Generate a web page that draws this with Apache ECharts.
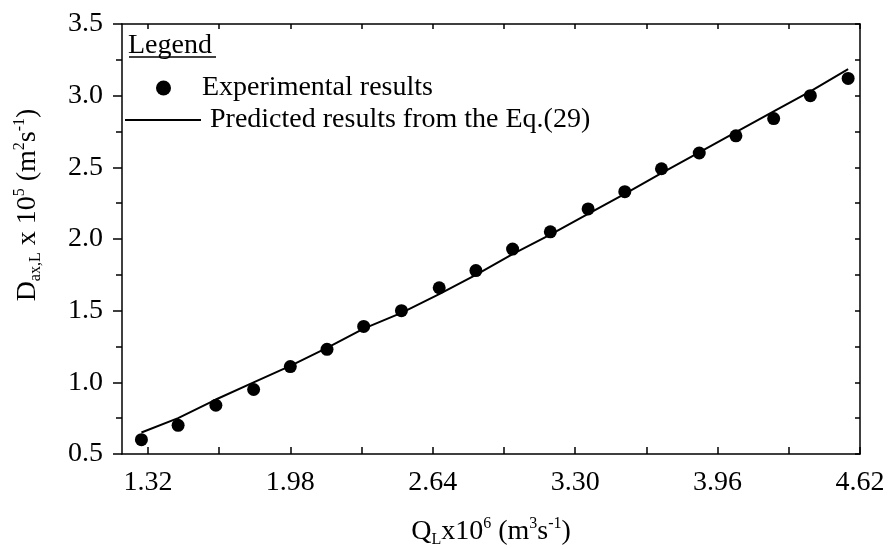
<!DOCTYPE html>
<html>
<head>
<meta charset="utf-8">
<script src="https://cdn.jsdelivr.net/npm/echarts@6/dist/echarts.min.js"></script>
<style>
  html, body { margin: 0; padding: 0; background: #fff; }
  #chart { width: 888px; height: 549px; }
</style>
</head>
<body>
<div id="chart"></div>
<script>
// flow rate Q_L x10^6 (m3/s)
var qL = [1.29, 1.46, 1.635, 1.81, 1.98, 2.15, 2.32, 2.495, 2.67, 2.84,
  3.01, 3.185, 3.36, 3.53, 3.70, 3.875, 4.045, 4.22, 4.39, 4.565]
// experimental D_ax,L x10^5
var expData = [0.60, 0.70, 0.84, 0.95, 1.11, 1.23, 1.39, 1.50, 1.66, 1.78,
  1.93, 2.05, 2.21, 2.33, 2.49, 2.60, 2.72, 2.84, 3.00, 3.12]
// predicted from Eq.(29)
var predData = [0.65, 0.75, 0.88, 1.00, 1.115, 1.24, 1.375, 1.485, 1.615, 1.75,
  1.895, 2.03, 2.175, 2.315, 2.46, 2.605, 2.745, 2.89, 3.03, 3.185]
var xTicks = [1.32, 1.65, 1.98, 2.31, 2.64, 2.97, 3.30, 3.63, 3.96, 4.29, 4.62]
var xLabels = [1.32, 1.98, 2.64, 3.30, 3.96, 4.62]

var font = "'Liberation Serif', 'Times New Roman', serif"
var fs = 28

var chart = echarts.init(document.getElementById('chart'))

var pairs = function (ys) {
  return qL.map(function (x, i) { return [x, ys[i]] })
}

var supStyle = { fontFamily: font, fontSize: 16, color: '#000', verticalAlign: 'top', lineHeight: 32 }
var subStyle = { fontFamily: font, fontSize: 16, color: '#000', verticalAlign: 'bottom', lineHeight: 32 }
var baseStyle = { fontFamily: font, fontSize: fs, color: '#000', lineHeight: 32 }

chart.setOption({
  animation: false,
  backgroundColor: '#fff',
  textStyle: { fontFamily: font, color: '#000' },
  title: {
    text: 'Legend',
    left: 128,
    top: 32,
    padding: 0,
    textStyle: { fontFamily: font, fontSize: fs, fontWeight: 'normal', color: '#000' }
  },
  graphic: [{
    type: 'line',
    shape: { x1: 129, y1: 57, x2: 216, y2: 57 },
    style: { stroke: '#000', lineWidth: 1.5 }
  }],
  legend: [{
    data: [{ name: 'Experimental results', icon: 'circle' }],
    left: 156,
    top: 74,
    padding: 0,
    itemWidth: 15,
    itemHeight: 15,
    textStyle: { fontFamily: font, fontSize: fs, color: '#000', padding: [0, 0, 0, 26] }
  }, {
    data: [{ name: 'Predicted results from the Eq.(29)', icon: 'rect' }],
    left: 125,
    top: 106,
    padding: 0,
    itemWidth: 76,
    itemHeight: 2,
    textStyle: { fontFamily: font, fontSize: fs, color: '#000', padding: [0, 0, 0, 4] }
  }],
  grid: { left: 122, right: 28, top: 24, bottom: 95, outerBoundsMode: 'none', containLabel: false },
  xAxis: [{
    type: 'value',
    position: 'bottom',
    min: 1.2,
    max: 4.62,
    splitLine: { show: false },
    axisLine: { lineStyle: { color: '#000', width: 1.5 } },
    axisTick: { customValues: xTicks, inside: true, length: 7, lineStyle: { color: '#000', width: 1.5 } },
    axisLabel: {
      customValues: xLabels,
      margin: 15,
      fontFamily: font, fontSize: fs, color: '#000',
      formatter: function (v) { return v.toFixed(2) }
    },
    name: '{b|Q}{sub|L}{b|x10}{sup|6}{b| (m}{sup|3}{b|s}{sup|-1}{b|)}',
    nameLocation: 'middle',
    nameGap: 62,
    nameTextStyle: { rich: { b: baseStyle, sup: supStyle, sub: subStyle } }
  }, {
    type: 'value',
    position: 'top',
    min: 1.2,
    max: 4.62,
    splitLine: { show: false },
    axisLine: { lineStyle: { color: '#000', width: 1.5 } },
    axisTick: { customValues: xTicks, inside: true, length: 5, lineStyle: { color: '#000', width: 1.5 } },
    axisLabel: { show: false }
  }],
  yAxis: [{
    type: 'value',
    position: 'left',
    min: 0.5,
    max: 3.5,
    interval: 0.5,
    splitLine: { show: false },
    axisLine: { show: true, lineStyle: { color: '#000', width: 1.5 } },
    axisTick: { show: true, length: 9, lineStyle: { color: '#000', width: 1.5 } },
    minorTick: { show: true, splitNumber: 2, length: 6, lineStyle: { color: '#000', width: 1.5 } },
    axisLabel: {
      margin: 19,
      fontFamily: font, fontSize: fs, color: '#000',
      formatter: function (v) { return v.toFixed(1) }
    },
    name: '{b|D}{sub|ax,L}{b| x 10}{sup|5}{b| (m}{sup|2}{b|s}{sup|-1}{b|)}',
    nameLocation: 'middle',
    nameGap: 78,
    nameTextStyle: { padding: [0, 0, 0, 68], rich: { b: baseStyle, sup: supStyle, sub: subStyle } }
  }, {
    type: 'value',
    position: 'right',
    min: 0.5,
    max: 3.5,
    interval: 0.5,
    splitLine: { show: false },
    axisLine: { show: true, lineStyle: { color: '#000', width: 1.5 } },
    axisTick: { show: true, inside: true, length: 5, lineStyle: { color: '#000', width: 1.5 } },
    minorTick: { show: true, splitNumber: 2, length: 5, lineStyle: { color: '#000', width: 1.5 } },
    axisLabel: { show: false }
  }],
  series: [{
    name: 'Experimental results',
    type: 'scatter',
    symbol: 'circle',
    symbolSize: 13,
    itemStyle: { color: '#000', opacity: 1 },
    data: pairs(expData),
    z: 3
  }, {
    name: 'Predicted results from the Eq.(29)',
    type: 'line',
    symbol: 'none',
    itemStyle: { color: '#000' },
    lineStyle: { color: '#000', width: 2 },
    data: pairs(predData),
    z: 2
  }]
})
</script>
</body>
</html>
